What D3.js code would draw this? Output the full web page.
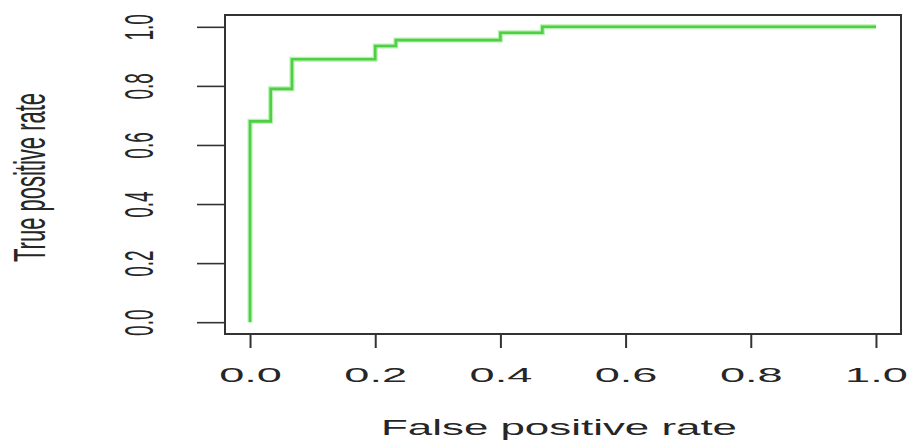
<!DOCTYPE html>
<html>
<head>
<meta charset="utf-8">
<script src="https://cdn.jsdelivr.net/npm/d3@7"></script>
<style>
  html, body { margin: 0; padding: 0; background: #ffffff; }
  svg { display: block; }
  text { font-family: "Liberation Sans", Arial, Helvetica, sans-serif; fill: #262626; }
</style>
</head>
<body>
<div id="chart"></div>
<script>
// ROC curve points (false positive rate, true positive rate)
const fpr = [0, 0, 0.033, 0.033, 0.067, 0.067, 0.2, 0.2, 0.233, 0.233, 0.4, 0.4, 0.467, 0.467, 1.0];
const tpr = [0, 0.68, 0.68, 0.79, 0.79, 0.89, 0.89, 0.935, 0.935, 0.955, 0.955, 0.98, 0.98, 1.0, 1.0];
const xTicks = [0, 0.2, 0.4, 0.6, 0.8, 1.0];
const yTicks = [0, 0.2, 0.4, 0.6, 0.8, 1.0];
const xTitle = "False positive rate";
const yTitle = "True positive rate";

const W = 912, H = 441;
const box = { left: 225, right: 901, top: 15, bottom: 334 };

const svg = d3.select("#chart").append("svg")
  .attr("width", W).attr("height", H)
  .attr("viewBox", `0 0 ${W} ${H}`);

// R-style 4% padding around data range
const x = d3.scaleLinear().domain([-0.04, 1.04]).range([box.left, box.right]);
const y = d3.scaleLinear().domain([-0.04, 1.04]).range([box.bottom, box.top]);

// curve
const pts = fpr.map((f, i) => [f, tpr[i]]);
svg.append("path")
  .datum(pts)
  .attr("fill", "none")
  .attr("stroke", "#b8f0b0")
  .attr("stroke-width", 5)
  .attr("stroke-linejoin", "miter")
  .attr("d", d3.line().x(d => x(d[0])).y(d => y(d[1])));
svg.append("path")
  .datum(pts)
  .attr("fill", "none")
  .attr("stroke", "#4fcf45")
  .attr("stroke-width", 2.6)
  .attr("stroke-linejoin", "miter")
  .attr("d", d3.line().x(d => x(d[0])).y(d => y(d[1])));

// box
svg.append("rect")
  .attr("x", box.left).attr("y", box.top)
  .attr("width", box.right - box.left).attr("height", box.bottom - box.top)
  .attr("fill", "none").attr("stroke", "#333").attr("stroke-width", 2);

// x axis
const gx = svg.append("g")
  .attr("transform", `translate(0,${box.bottom})`)
  .call(d3.axisBottom(x).tickValues(xTicks).tickSize(14).tickSizeOuter(0).tickFormat(d3.format(".1f")));
gx.select(".domain").remove();
gx.selectAll(".tick line").attr("stroke", "#333").attr("stroke-width", 2);
gx.selectAll(".tick text")
  .attr("y", null).attr("dy", null)
  .attr("text-anchor", "middle")
  .attr("font-size", 21)
  .attr("transform", "translate(0,48) scale(2.15,1)")
  .style("font-family", '"Liberation Sans", Arial, sans-serif')
  .attr("fill", "#262626");

// y axis
const gy = svg.append("g")
  .attr("transform", `translate(${box.left},0)`)
  .call(d3.axisLeft(y).tickValues(yTicks).tickSize(28).tickSizeOuter(0).tickFormat(d3.format(".1f")));
gy.select(".domain").remove();
gy.selectAll(".tick line").attr("stroke", "#333").attr("stroke-width", 1.6);
gy.selectAll(".tick text")
  .attr("x", null).attr("dy", null)
  .attr("text-anchor", "middle")
  .attr("font-size", 19)
  .attr("transform", "translate(-72,0) scale(2.1,1) rotate(-90)")
  .style("font-family", '"Liberation Sans", Arial, sans-serif')
  .attr("fill", "#262626");

// titles
svg.append("text")
  .attr("text-anchor", "middle")
  .attr("font-size", 22.5)
  .attr("transform", `translate(${x(0.5) - 4},435) scale(1.95,1)`)
  .text(xTitle);

svg.append("text")
  .attr("text-anchor", "middle")
  .attr("font-size", 22)
  .attr("transform", `translate(45,${(box.top + box.bottom) / 2 + 3}) scale(2.0,1) rotate(-90)`)
  .text(yTitle);
</script>
</body>
</html>
